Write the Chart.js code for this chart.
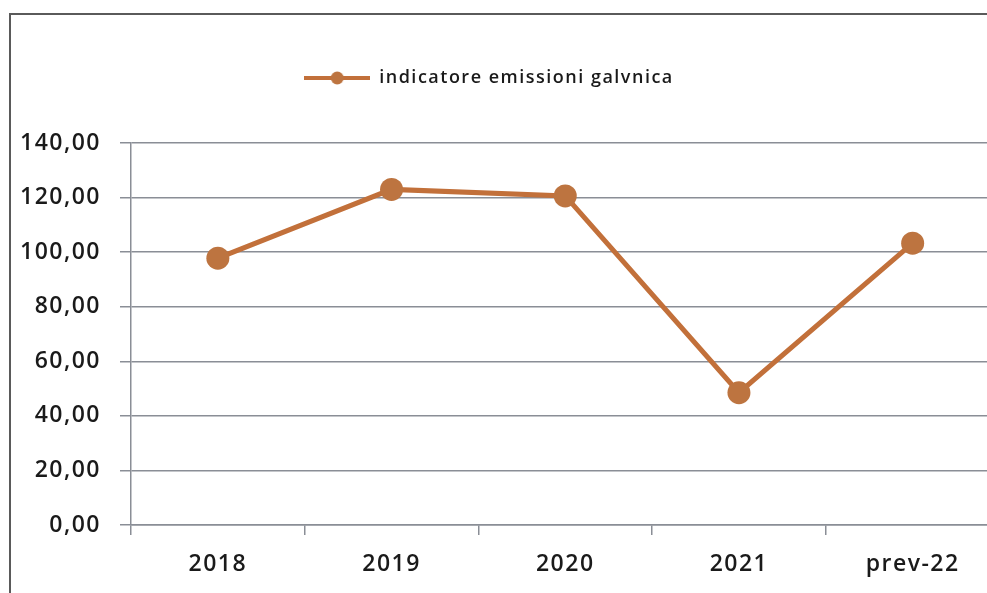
<!DOCTYPE html>
<html>
<head>
<meta charset="utf-8">
<script src="https://cdn.jsdelivr.net/npm/chart.js@4.4.1/dist/chart.umd.min.js"></script>
<style>
  html, body { margin: 0; padding: 0; background: #fff; overflow: hidden; }
  #wrap { position: relative; width: 987px; height: 593px; overflow: hidden; }
  #frame {
    position: absolute; left: 9px; top: 13px; width: 1000px; height: 600px;
    border-left: 2px solid #5a5a5a; border-top: 2px solid #5a5a5a;
  }
  #grafica { position: absolute; left: -29px; top: 0; }
</style>
</head>
<body>
<div id="wrap">
  <div id="frame"></div>
  <canvas id="grafica" width="1040" height="593"></canvas>
</div>
<script>
// --- DATI ---
const categorie = ['2018', '2019', '2020', '2021', 'prev-22'];
const valori = [97.8, 123.0, 120.6, 48.5, 103.3];
const tickY = [0, 20, 40, 60, 80, 100, 120, 140];
const nomeSerie = 'indicatore emissioni galvnica';

const arancio = '#c2703a';
const grigio = '#8a8e96';

// icona della legenda: linea con pallino
const icona = document.createElement('canvas');
icona.width = 66;
icona.height = 14;
const ic = icona.getContext('2d');
ic.strokeStyle = arancio;
ic.lineWidth = 4;
ic.beginPath();
ic.moveTo(0, 7);
ic.lineTo(66, 7);
ic.stroke();
ic.fillStyle = '#bd7440';
ic.beginPath();
ic.arc(33, 7, 6.5, 0, Math.PI * 2);
ic.fill();

// testo un po' spaziato come nello scan
const spaziatura = {
    id: 'spaziatura',
    beforeLayout(chart) { chart.ctx.letterSpacing = '1.5px'; },
    beforeDraw(chart) { chart.ctx.letterSpacing = '1.5px'; }
};

new Chart(document.getElementById('grafica').getContext('2d'), {
    type: 'line',
    data: {
        labels: categorie,
        datasets: [{
            label: nomeSerie,
            data: valori,
            borderColor: arancio,
            borderWidth: 5,
            pointRadius: 11.5,
            pointHoverRadius: 11.5,
            pointBackgroundColor: '#bd7440',
            pointBorderWidth: 0,
            tension: 0
        }]
    },
    options: {
        responsive: false,
        animation: false,
        layout: { padding: { top: 55, right: 4, left: 0, bottom: 0 } },
        plugins: {
            legend: {
                position: 'top',
                labels: {
                    usePointStyle: true,
                    pointStyle: icona,
                    pointStyleWidth: 66,
                    padding: 14,
                    color: '#1a1a1a',
                    font: { family: 'Open Sans', size: 18, weight: 600 }
                }
            },
            // spaziatore tra legenda e grafico
            subtitle: {
                display: true,
                text: '',
                weight: 500,
                font: { size: 10 },
                padding: { top: 0, bottom: 34 }
            },
            tooltip: { enabled: false }
        },
        scales: {
            x: {
                offset: true,
                grid: {
                    offset: true,
                    drawOnChartArea: false,
                    tickLength: 10,
                    color: grigio,
                    lineWidth: 1.5
                },
                border: { color: grigio, width: 1.5 },
                ticks: {
                    color: '#1a1a1a',
                    padding: 16,
                    maxRotation: 0,
                    font: { family: 'Open Sans', size: 23, weight: 600 }
                },
                afterFit(scale) { scale.height = 68; }
            },
            y: {
                min: 0,
                max: 140,
                afterBuildTicks(scale) { scale.ticks = tickY.map(v => ({ value: v })); },
                grid: { color: grigio, lineWidth: 1.5, tickLength: 11 },
                border: { color: grigio, width: 1.5 },
                ticks: {
                    color: '#1a1a1a',
                    padding: 19,
                    font: { family: 'Open Sans', size: 23, weight: 600 },
                    callback: v => v.toFixed(2).replace('.', ',')
                },
                afterFit(scale) { scale.width = 160; }
            }
        }
    },
    plugins: [spaziatura]
});
</script>
</body>
</html>
